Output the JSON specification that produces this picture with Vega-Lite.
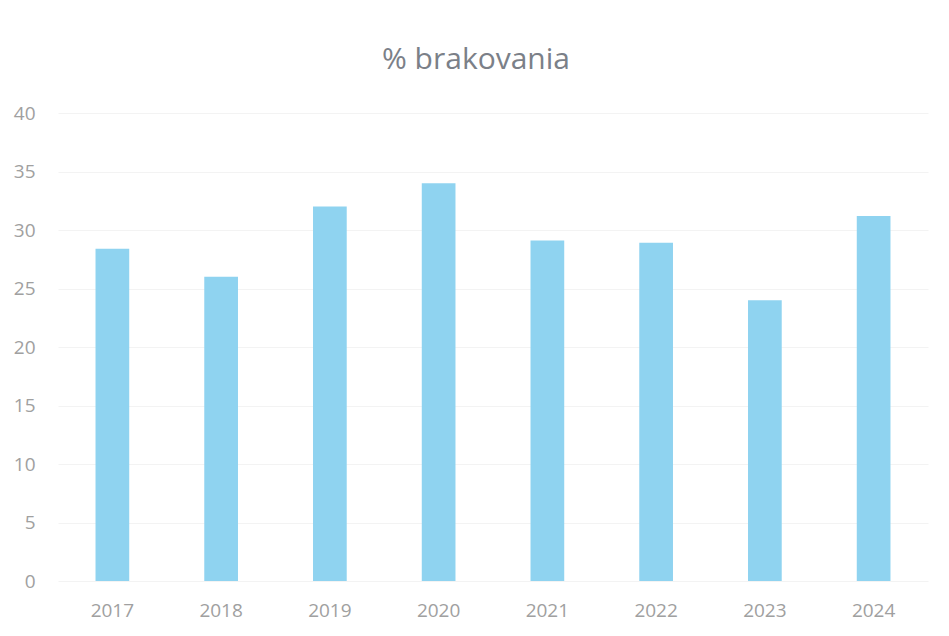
{
  "$schema": "https://vega.github.io/schema/vega-lite/v6.json",
  "width": 870,
  "height": 468,
  "autosize": {"type": "none"},
  "padding": {"left": 58, "top": 113, "right": 21, "bottom": 55},
  "background": "white",
  "title": {
    "text": "% brakovania",
    "font": "Open Sans",
    "fontSize": 30,
    "fontWeight": "normal",
    "color": "#7b8088",
    "anchor": "middle",
    "dx": -17,
    "offset": 29
  },
  "data": {
    "values": [
      {"rok": "2017", "hodnota": 28.4},
      {"rok": "2018", "hodnota": 26.0},
      {"rok": "2019", "hodnota": 32.0},
      {"rok": "2020", "hodnota": 34.0},
      {"rok": "2021", "hodnota": 29.1},
      {"rok": "2022", "hodnota": 28.9},
      {"rok": "2023", "hodnota": 24.0},
      {"rok": "2024", "hodnota": 31.2}
    ]
  },
  "mark": {"type": "bar", "color": "#8fd3f0"},
  "encoding": {
    "x": {
      "field": "rok",
      "type": "ordinal",
      "scale": {"paddingInner": 0.69, "paddingOuter": 0.345},
      "axis": {
        "title": null,
        "labelAngle": 0,
        "domain": false,
        "ticks": false,
        "labelFont": "Open Sans",
        "labelFontSize": 19,
        "labelColor": "#a0a0a0",
        "labelPadding": 20
      }
    },
    "y": {
      "field": "hodnota",
      "type": "quantitative",
      "scale": {"domain": [0, 40]},
      "axis": {
        "title": null,
        "values": [0, 5, 10, 15, 20, 25, 30, 35, 40],
        "domain": false,
        "ticks": false,
        "grid": true,
        "gridColor": "#f3f3f3",
        "labelFont": "Open Sans",
        "labelFontSize": 19,
        "labelColor": "#a0a0a0",
        "labelPadding": 23
      }
    }
  },
  "config": {"view": {"stroke": null}}
}
